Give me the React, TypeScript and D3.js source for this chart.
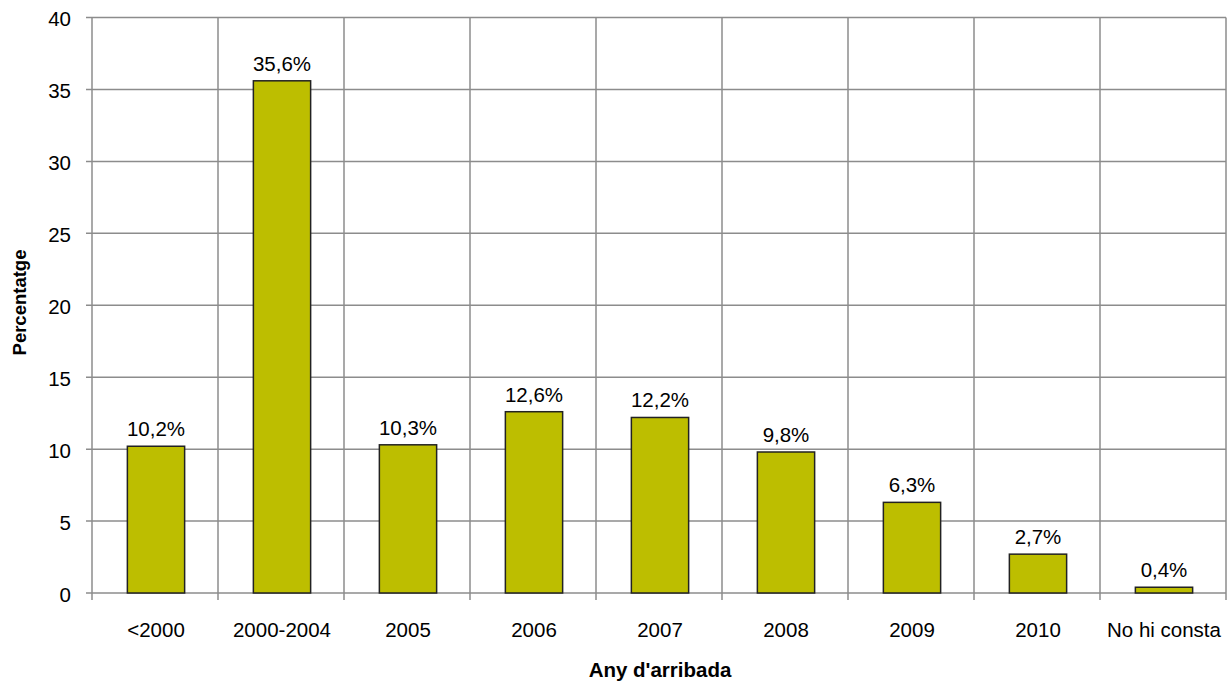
import React from "react";
import * as d3 from "d3";

const categories = ["<2000", "2000-2004", "2005", "2006", "2007", "2008", "2009", "2010", "No hi consta"];
const values = [10.2, 35.6, 10.3, 12.6, 12.2, 9.8, 6.3, 2.7, 0.4];
const yTicks = [0, 5, 10, 15, 20, 25, 30, 35, 40];

const W = 1229, H = 682;
const left = 92, right = 1226, top = 17.5, bottom = 593;
const font = "'Liberation Sans', Arial, sans-serif";
const grid = "#8c8c8c";

export default function App() {
  const x = d3.scaleBand<string>().domain(categories).range([left, right]).paddingInner(0).paddingOuter(0);
  const y = d3.scaleLinear().domain([0, 40]).range([bottom, top]);
  const bw = x.bandwidth() / 2.2;
  const fmt = (v: number) => v.toFixed(1).replace(".", ",") + "%";
  return (
    <svg width={W} height={H} style={{ position: "absolute", left: 0, top: 0, background: "#fff" }} fontFamily={font}>
      {yTicks.map(t => (
        <g key={t}>
          <line x1={left - 6} x2={right} y1={y(t)} y2={y(t)} stroke={grid} strokeWidth={1.5} />
          <text x={71} y={y(t) + 8.5} textAnchor="end" fontSize={20.5} fill="#000">{t}</text>
        </g>
      ))}
      {categories.map((c, i) => (
        <line key={"v" + i} x1={x(c)!} x2={x(c)!} y1={top} y2={bottom + 7} stroke={grid} strokeWidth={1.5} />
      ))}
      <line x1={right} x2={right} y1={top} y2={bottom + 7} stroke={grid} strokeWidth={1.5} />
      {categories.map((c, i) => {
        const cx = x(c)! + x.bandwidth() / 2 + 1;
        return (
          <g key={c}>
            <rect x={cx - bw / 2} y={y(values[i])} width={bw} height={bottom - y(values[i])} fill="#BDBE00" stroke="#222" strokeWidth={1.5} />
            <text x={cx} y={y(values[i]) - 10} textAnchor="middle" fontSize={20.5} fill="#000">{fmt(values[i])}</text>
            <text x={cx} y={637} textAnchor="middle" fontSize={20.5} fill="#000">{c}</text>
          </g>
        );
      })}
      <text x={660} y={677} textAnchor="middle" fontSize={20.5} fontWeight="bold" fill="#000">Any d'arribada</text>
      <text transform={`translate(26,302.5) rotate(-90)`} textAnchor="middle" fontSize={18.5} fontWeight="bold" fill="#000">Percentatge</text>
    </svg>
  );
}
